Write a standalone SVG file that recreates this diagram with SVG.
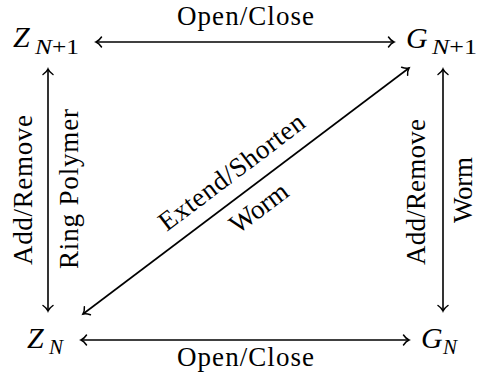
<svg xmlns="http://www.w3.org/2000/svg" width="480" height="378" viewBox="0 0 480 378">
<style>
text{font-family:"Liberation Serif","Times New Roman",serif;fill:#000}
.m{font-style:italic;font-size:30px}
.s{font-size:21px}
.i{font-style:italic}
.l{font-size:27px}
.c{stroke:#000;stroke-width:1.6;fill:none}
</style>
<defs>
<marker id="ah" markerUnits="userSpaceOnUse" markerWidth="14" markerHeight="14" refX="0" refY="0" viewBox="-8 -7 10 14" orient="auto-start-reverse" overflow="visible">
<path d="M-5.5,-5 C-3.5,-2 -1.2,-0.5 0,0 C-1.2,0.5 -3.5,2 -5.5,5" stroke="#000" stroke-width="1.5" fill="none" stroke-linecap="round"/>
</marker>
</defs>
<g id="connectors">
<line class="c" x1="96" y1="42" x2="394" y2="42" marker-start="url(#ah)" marker-end="url(#ah)"/>
<line class="c" x1="81" y1="340" x2="409" y2="340" marker-start="url(#ah)" marker-end="url(#ah)"/>
<line class="c" x1="48" y1="69" x2="48" y2="311" marker-start="url(#ah)" marker-end="url(#ah)"/>
<line class="c" x1="443" y1="69" x2="443" y2="311" marker-start="url(#ah)" marker-end="url(#ah)"/>
<line class="c" x1="83" y1="314" x2="409" y2="68" marker-start="url(#ah)" marker-end="url(#ah)"/>
<text class="l" x="245.5" y="25" text-anchor="middle" textLength="137" lengthAdjust="spacing">Open/Close</text>
<text class="l" x="245.5" y="366" text-anchor="middle" textLength="137" lengthAdjust="spacing">Open/Close</text>
<text class="l" transform="translate(32,190) rotate(-90)" text-anchor="middle" textLength="150" lengthAdjust="spacing">Add/Remove</text>
<text class="l" transform="translate(78,189) rotate(-90)" text-anchor="middle" textLength="160" lengthAdjust="spacing">Ring Polymer</text>
<text class="l" transform="translate(425,192) rotate(-90)" text-anchor="middle" textLength="146" lengthAdjust="spacing">Add/Remove</text>
<text class="l" transform="translate(472,190) rotate(-90)" text-anchor="middle" textLength="66" lengthAdjust="spacing">Worm</text>
<g transform="rotate(-37.1 246 191)">
<text class="l" x="246" y="176" text-anchor="middle" textLength="176" lengthAdjust="spacing">Extend/Shorten</text>
<text class="l" x="246" y="221" text-anchor="middle" textLength="66" lengthAdjust="spacing">Worm</text>
</g>
</g>
<g id="ZN1">
<text class="m" x="13" y="47">Z</text>
<text class="s" x="35" y="54" textLength="44" lengthAdjust="spacingAndGlyphs"><tspan class="i">N</tspan>+1</text>
</g>
<g id="GN1">
<text class="m" x="406" y="48">G</text>
<text class="s" x="432" y="54" textLength="45" lengthAdjust="spacingAndGlyphs"><tspan class="i">N</tspan>+1</text>
</g>
<g id="ZN">
<text class="m" x="27" y="348">Z</text>
<text class="s i" x="49" y="354">N</text>
</g>
<g id="GN">
<text class="m" x="421" y="348">G</text>
<text class="s i" x="443" y="354">N</text>
</g>
</svg>
